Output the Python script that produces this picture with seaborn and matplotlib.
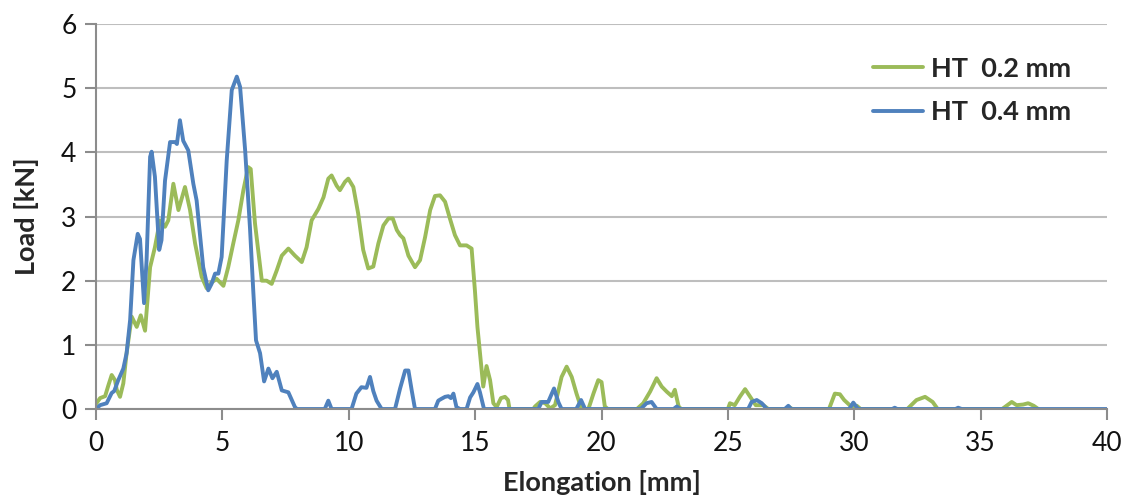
import numpy as np
import pandas as pd
import matplotlib
matplotlib.use("Agg")
import matplotlib.pyplot as plt
import seaborn as sns

# Load–elongation curves, digitised at (elongation mm, load kN)
ht02_elong = [
    0.00, 0.16, 0.36, 0.49, 0.62, 0.75, 0.82, 0.95, 1.08, 1.21, 1.41, 1.61, 1.77, 1.94,
    2.14, 2.33, 2.53, 2.73, 2.86, 3.06, 3.26, 3.52, 3.72, 3.92, 4.18, 4.38, 4.57, 4.77,
    5.04, 5.23, 5.43, 5.63, 5.83, 6.02, 6.12, 6.29, 6.56, 6.75, 6.95, 7.15, 7.35, 7.61,
    7.87, 8.14, 8.33, 8.53, 8.80, 9.00, 9.19, 9.32, 9.52, 9.65, 9.85, 9.98, 10.18, 10.37,
    10.57, 10.77, 10.97, 11.17, 11.37, 11.57, 11.74, 11.90, 12.03, 12.16, 12.36, 12.62,
    12.82, 13.02, 13.22, 13.41, 13.61, 13.81, 14.00, 14.20, 14.40, 14.66, 14.86, 14.99,
    15.09, 15.19, 15.32, 15.45, 15.59, 15.72, 15.85, 16.02, 16.18, 16.30, 16.36, 17.30,
    17.37, 17.57, 17.77, 17.97, 18.16, 18.42, 18.62, 18.82, 19.01, 19.21, 19.48, 19.68,
    19.87, 20.00, 20.13, 20.25, 21.40, 21.65, 21.92, 22.18, 22.38, 22.58, 22.78, 22.90,
    23.05, 23.15, 25.00, 25.08, 25.27, 25.47, 25.68, 25.88, 26.10, 26.40, 26.60, 27.30,
    27.42, 27.55, 29.00, 29.23, 29.43, 29.60, 29.90, 30.10, 30.25, 32.10, 32.20, 32.46,
    32.80, 33.10, 33.30, 35.85, 36.23, 36.42, 36.68, 36.88, 37.10, 37.28,
]
ht02_load = [
    0.08, 0.17, 0.20, 0.37, 0.53, 0.45, 0.30, 0.19, 0.40, 0.87, 1.44, 1.28, 1.46, 1.22,
    2.21, 2.52, 2.94, 2.84, 2.94, 3.51, 3.10, 3.46, 3.10, 2.58, 2.06, 1.88, 1.97, 2.03,
    1.92, 2.21, 2.58, 2.94, 3.41, 3.77, 3.74, 2.89, 2.00, 2.00, 1.95, 2.16, 2.39, 2.50,
    2.39, 2.29, 2.52, 2.94, 3.12, 3.30, 3.59, 3.64, 3.48, 3.41, 3.54, 3.59, 3.46, 3.05,
    2.48, 2.19, 2.22, 2.58, 2.86, 2.97, 2.97, 2.79, 2.71, 2.66, 2.39, 2.21,
    2.32, 2.68, 3.10, 3.32, 3.33, 3.23, 2.97, 2.71, 2.55, 2.55, 2.50, 1.85,
    1.28, 0.87, 0.35, 0.67, 0.45, 0.09, 0.03, 0.17, 0.19, 0.14, 0.00, 0.00,
    0.04, 0.11, 0.09, 0.01, 0.06, 0.50, 0.66, 0.50, 0.24, 0.00, 0.00, 0.24,
    0.45, 0.42, 0.04, 0.00, 0.00, 0.09, 0.27, 0.48, 0.35, 0.27, 0.20, 0.30,
    0.04, 0.00, 0.00, 0.09, 0.06, 0.19, 0.31, 0.19, 0.06, 0.06, 0.00, 0.00,
    0.03, 0.00, 0.00, 0.24, 0.23, 0.14, 0.03, 0.05, 0.00, 0.00, 0.04, 0.14,
    0.19, 0.11, 0.00, 0.00, 0.11, 0.06, 0.07, 0.09, 0.05, 0.00,
]

ht04_elong = [
    0.00, 0.16, 0.42, 0.62, 0.72, 0.88, 1.08, 1.21, 1.35, 1.48, 1.65, 1.74, 1.90, 2.00,
    2.14, 2.20, 2.33, 2.50, 2.59, 2.73, 2.93, 3.13, 3.20, 3.32, 3.45, 3.65, 3.85, 3.98,
    4.24, 4.44, 4.57, 4.71, 4.84, 4.97, 5.17, 5.37, 5.57, 5.70, 5.90, 6.09, 6.22, 6.33,
    6.49, 6.65, 6.82, 6.98, 7.15, 7.35, 7.61, 7.87, 7.95, 9.05, 9.19, 9.32, 10.11, 10.30,
    10.50, 10.70, 10.84, 10.97, 11.10, 11.30, 11.83, 12.03, 12.23, 12.36, 12.49, 12.62,
    13.41, 13.54, 13.67, 13.81, 13.94, 14.04, 14.14, 14.26, 14.40, 14.66, 14.80, 14.93,
    15.09, 15.19, 15.35, 17.50, 17.63, 17.89, 18.12, 18.30, 18.42, 19.00, 19.19, 19.35,
    21.55, 21.78, 21.98, 22.18, 22.85, 22.98, 23.10, 25.80, 25.94, 26.14, 26.34, 26.54,
    27.25, 27.39, 27.50, 29.80, 29.96, 30.15, 31.50, 31.60, 31.70, 34.00, 34.11, 34.25,
    40.00,
]
ht04_load = [
    0.00, 0.06, 0.09, 0.25, 0.28, 0.45, 0.63, 0.87, 1.39, 2.32, 2.73, 2.65, 1.65, 2.32,
    3.93, 4.01, 3.62, 2.48, 2.63, 3.56, 4.16, 4.16, 4.13, 4.50, 4.18, 4.03, 3.51, 3.25,
    2.21, 1.85, 1.95, 2.11, 2.11, 2.37, 3.87, 4.97, 5.18, 5.02, 4.03, 2.83, 1.85, 1.07,
    0.87, 0.43, 0.63, 0.48, 0.58, 0.29, 0.26, 0.03, 0.00, 0.00, 0.13, 0.00, 0.00, 0.24,
    0.34, 0.33, 0.50, 0.28, 0.13, 0.00, 0.00, 0.32, 0.60, 0.60, 0.29, 0.00,
    0.00, 0.13, 0.16, 0.19, 0.20, 0.17, 0.24, 0.03, 0.00, 0.00, 0.18, 0.26,
    0.39, 0.26, 0.00, 0.00, 0.11, 0.11, 0.32, 0.10, 0.00, 0.00, 0.14, 0.00,
    0.00, 0.09, 0.11, 0.00, 0.00, 0.04, 0.00, 0.00, 0.11, 0.14, 0.09, 0.00,
    0.00, 0.05, 0.00, 0.00, 0.10, 0.00, 0.00, 0.02, 0.00, 0.00, 0.02, 0.00,
    0.00,
]

series_labels = ["HT  0.2 mm", "HT  0.4 mm"]
series_colors = ["#9BBB59", "#4F81BD"]

df = pd.concat([
    pd.DataFrame({"Elongation": ht02_elong, "Load": ht02_load, "Series": series_labels[0]}),
    pd.DataFrame({"Elongation": ht04_elong, "Load": ht04_load, "Series": series_labels[1]}),
], ignore_index=True)

sns.set_style("white")
plt.rcParams["font.family"] = ["Lato", "DejaVu Sans"]

fig = plt.figure(figsize=(11.27, 5.01), dpi=100)
ax = fig.add_axes([0.0852, 0.1836, 0.8971, 0.7685])

line_w = 2.8
sns.lineplot(
    data=df, x="Elongation", y="Load", hue="Series",
    hue_order=series_labels, palette=series_colors,
    sort=False, estimator=None, linewidth=line_w, ax=ax, legend=False,
)
for line in ax.get_lines():
    line.set_solid_joinstyle("round")
    line.set_solid_capstyle("round")

ax.set_xlim(0, 40)
ax.set_ylim(0, 6)
ax.set_xticks(np.arange(0, 41, 5))
ax.set_yticks(np.arange(0, 7, 1))
ax.yaxis.grid(True, color="#BEBEBE", linewidth=1.5)
ax.xaxis.grid(False)
ax.set_axisbelow(True)

for side in ["top", "right"]:
    ax.spines[side].set_visible(False)
for side in ["left", "bottom"]:
    ax.spines[side].set_color("#8C8C8C")
    ax.spines[side].set_linewidth(1.5)

ax.tick_params(axis="both", which="major", direction="out", length=8, width=1.5,
               color="#8C8C8C", labelsize=19, labelcolor="#111111", pad=6,
               left=True, bottom=True)
ax.tick_params(axis="x", pad=8)

ax.set_xlabel("Elongation [mm]", fontsize=19.5, fontweight="bold", labelpad=10)
ax.set_ylabel("Load [kN]", fontsize=19.5, fontweight="bold", labelpad=16)

handles = [plt.Line2D([], [], color=c, linewidth=line_w) for c in series_colors]
ax.legend(handles, series_labels, loc="upper left", bbox_to_anchor=(0.753, 0.935),
          bbox_transform=fig.transFigure, frameon=False,
          prop={"size": 19.5, "weight": "bold"}, handlelength=1.85, handletextpad=0.3,
          labelspacing=0.72)

fig.savefig("out.png", dpi=100)
